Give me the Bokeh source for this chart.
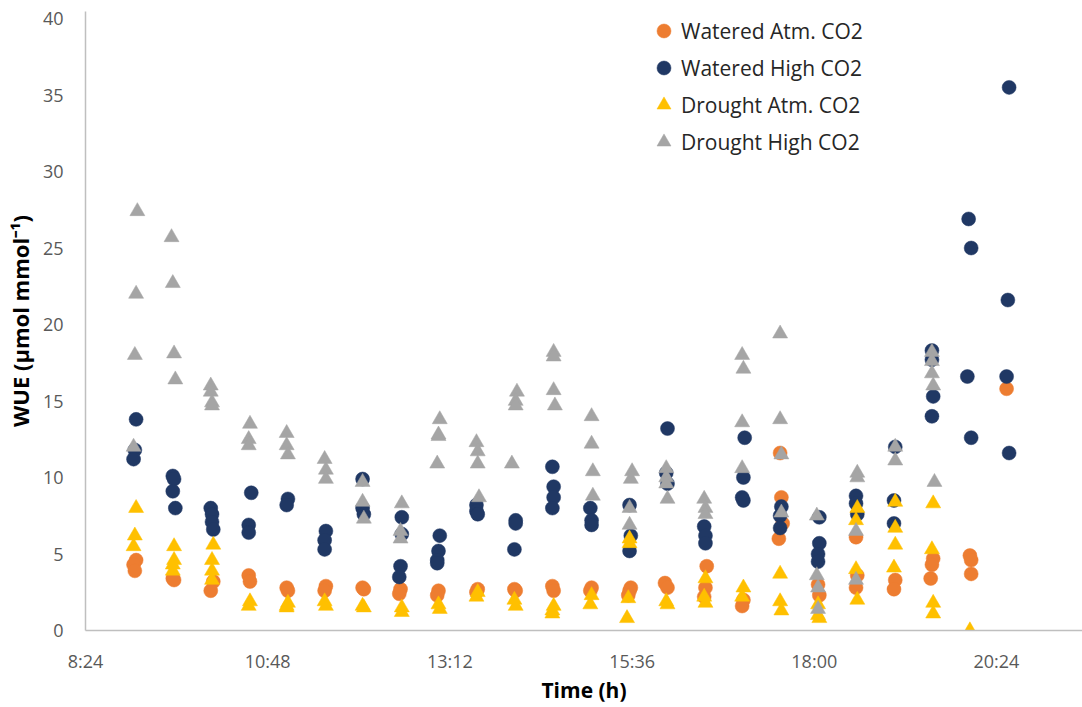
from bokeh.plotting import figure
from bokeh.models import FixedTicker, Legend, LegendItem, ColumnDataSource
from bokeh.embed import file_html
from bokeh.resources import INLINE

# ---------------- data ----------------
x_tick_labels = ["8:24", "10:48", "13:12", "15:36", "18:00", "20:24"]
x_end_label = "21:32"
y_ticks = [0, 5, 10, 15, 20, 25, 30, 35, 40]
y_top = 40.46

wa_time = ["9:04", "9:02", "9:03", "9:33", "9:34", "10:05", "10:03", "10:33", "10:34",
           "11:03", "11:04", "11:34", "11:33", "12:03", "12:04", "12:33", "12:32",
           "13:03", "13:02", "13:34", "13:33", "14:03", "14:04", "14:33", "14:34",
           "15:04", "15:03", "15:35", "15:34", "15:33", "16:02", "16:04",
           "16:35", "16:34", "16:33", "17:04", "17:03",
           "17:33", "17:34", "17:35", "17:32", "18:03", "18:04",
           "18:33", "18:34", "18:33", "19:04", "19:03", "19:34", "19:33", "19:32",
           "20:03", "20:04", "20:04", "20:32"]
wa_wue = [4.6, 4.3, 3.9, 3.4, 3.3, 3.2, 2.6, 3.6, 3.2,
          2.8, 2.6, 2.9, 2.6, 2.8, 2.7, 2.7, 2.4,
          2.6, 2.3, 2.7, 2.5, 2.7, 2.6, 2.9, 2.6,
          2.8, 2.6, 2.8, 2.6, 2.3, 3.1, 2.8,
          4.2, 2.8, 2.2, 2.0, 1.6,
          11.6, 8.7, 7.0, 6.0, 3.0, 2.3,
          6.1, 3.6, 2.8, 3.3, 2.7, 4.7, 4.3, 3.4,
          4.9, 4.6, 3.7, 15.8]

wh_time = ["9:04", "9:03", "9:02", "9:33", "9:34", "9:33", "9:35",
           "10:03", "10:04", "10:04", "10:05", "10:35", "10:33", "10:33",
           "11:04", "11:03", "11:34", "11:33", "11:33", "12:03", "12:03", "12:04",
           "12:34", "12:34", "12:33", "12:32", "13:04", "13:03", "13:02", "13:02",
           "13:33", "13:33", "13:34", "14:04", "14:04", "14:03",
           "14:33", "14:34", "14:34", "14:33", "15:03", "15:04", "15:04",
           "15:34", "15:35", "15:34", "16:04", "16:03", "16:04",
           "16:33", "16:34", "16:34", "17:05", "17:04", "17:03", "17:04",
           "17:34", "17:33", "17:33", "18:04", "18:04", "18:03", "18:03",
           "18:33", "18:33", "18:34", "19:04", "19:03", "19:03",
           "19:33", "19:33", "19:34", "19:33", "20:02", "20:04", "20:01", "20:04",
           "20:34", "20:33", "20:32", "20:34"]
wh_wue = [13.8, 11.8, 11.2, 10.1, 9.9, 9.1, 8.0,
          8.0, 7.6, 7.1, 6.6, 9.0, 6.9, 6.4,
          8.6, 8.2, 6.5, 5.9, 5.3, 9.9, 8.0, 7.6,
          7.4, 6.3, 4.2, 3.5, 6.2, 5.2, 4.6, 4.4,
          8.2, 7.8, 7.6, 7.2, 7.0, 5.3,
          10.7, 9.4, 8.7, 8.0, 8.0, 7.2, 6.9,
          8.2, 6.2, 5.2, 13.2, 10.3, 9.6,
          6.8, 6.2, 5.7, 12.6, 10.0, 8.7, 8.5,
          8.1, 7.5, 6.7, 7.4, 5.7, 5.0, 4.5,
          8.8, 8.3, 7.6, 12.0, 8.5, 7.0,
          18.3, 17.7, 15.3, 14.0, 26.9, 25.0, 16.6, 12.6,
          35.5, 21.6, 16.6, 11.6]

da_time = ["9:04", "9:03", "9:02", "9:34", "9:34", "9:33", "9:33",
           "10:05", "10:04", "10:04", "10:04", "10:34", "10:33",
           "11:04", "11:03", "11:03", "11:33", "11:34", "12:03", "12:04",
           "12:34", "12:34", "13:03", "13:04", "13:34", "13:33", "14:03", "14:04",
           "14:34", "14:33", "14:33", "15:04", "15:03",
           "15:34", "15:34", "15:33", "15:32", "16:03", "16:04",
           "16:34", "16:33", "16:34", "17:04", "17:03",
           "17:33", "17:33", "17:34", "18:03", "18:03", "18:04",
           "18:34", "18:33", "18:33", "18:34", "19:04", "19:04", "19:04", "19:03",
           "19:34", "19:33", "19:34", "19:34", "20:03"]
da_wue = [8.0, 6.2, 5.5, 5.5, 4.6, 4.3, 3.9,
          5.6, 4.6, 3.9, 3.3, 1.9, 1.6,
          1.8, 1.6, 1.5, 1.9, 1.6, 1.6, 1.5,
          1.5, 1.2, 1.7, 1.4, 2.5, 2.2, 2.0, 1.6,
          1.6, 1.3, 1.1, 2.3, 1.7,
          6.0, 5.7, 2.1, 0.8, 1.9, 1.7,
          3.4, 2.2, 1.8, 2.8, 2.2,
          3.7, 1.9, 1.3, 1.7, 1.0, 0.8,
          8.0, 7.2, 4.0, 2.0, 8.4, 6.7, 5.6, 4.1,
          8.3, 5.3, 1.8, 1.1, 0.0]

dh_time = ["9:05", "9:04", "9:03", "9:02", "9:32", "9:33", "9:34", "9:35",
           "10:03", "10:03", "10:04", "10:04", "10:34", "10:33", "10:33",
           "11:03", "11:03", "11:04", "11:33", "11:34", "11:34",
           "12:03", "12:03", "12:04", "12:34", "12:33", "12:33",
           "13:04", "13:03", "13:03", "13:02", "13:33", "13:34", "13:34", "13:35",
           "14:05", "14:04", "14:04", "14:01", "14:34", "14:34", "14:34", "14:35",
           "15:04", "15:04", "15:05", "15:05", "15:36", "15:35", "15:34", "15:34",
           "16:03", "16:03", "16:03", "16:04", "16:33", "16:34", "16:34",
           "17:03", "17:04", "17:03", "17:03", "17:33", "17:33", "17:34", "17:34",
           "18:02", "18:02", "18:03", "18:03", "18:34", "18:34", "18:33", "18:33",
           "19:04", "19:04", "19:33", "19:33", "19:33", "19:34", "19:35"]
dh_wue = [27.4, 22.0, 18.0, 12.0, 25.7, 22.7, 18.1, 16.4,
          16.0, 15.6, 14.9, 14.7, 13.5, 12.5, 12.1,
          12.9, 12.1, 11.5, 11.2, 10.5, 9.9,
          9.7, 8.4, 7.3, 8.3, 6.5, 6.0,
          13.8, 12.8, 12.7, 10.9, 12.3, 11.7, 10.9, 8.7,
          15.6, 15.0, 14.7, 10.9, 18.2, 17.9, 15.7, 14.7,
          14.0, 12.2, 10.4, 8.8, 10.4, 9.9, 8.0, 6.9,
          10.6, 10.0, 9.6, 8.6, 8.6, 8.0, 7.6,
          18.0, 17.1, 13.6, 10.6, 19.4, 13.8, 11.5, 7.7,
          7.5, 3.6, 2.8, 1.4, 10.3, 10.0, 6.5, 3.3,
          12.0, 11.1, 18.2, 17.6, 16.8, 16.0, 9.7]

series_names = ["Watered Atm. CO2", "Watered High CO2", "Drought Atm. CO2", "Drought High CO2"]
series_colors = ["#ED7D31", "#203864", "#FFC000", "#A5A5A5"]
series_markers = ["circle", "circle", "triangle", "triangle"]


def minutes(t):
    h, m = t.split(":")
    return int(h) * 60 + int(m)


# ---------------- figure ----------------
x_ticks = [minutes(t) for t in x_tick_labels]
p = figure(width=1082, height=707, output_backend="svg", toolbar_location=None,
           x_range=(x_ticks[0], minutes(x_end_label)), y_range=(y_ticks[0], y_top),
           min_border_left=85, min_border_right=0, min_border_top=11, min_border_bottom=77)
p.outline_line_color = None
p.xgrid.grid_line_color = None
p.ygrid.grid_line_color = None
p.background_fill_color = "white"
p.border_fill_color = "white"

for ax in (p.xaxis[0], p.yaxis[0]):
    ax.axis_line_color = "#BFBFBF"
    ax.axis_line_width = 1.5
    ax.major_tick_line_color = None
    ax.minor_tick_line_color = None
    ax.major_tick_out = 0
    ax.major_tick_in = 0
    ax.major_label_text_font = "Open Sans"
    ax.major_label_text_font_size = "18px"
    ax.major_label_text_color = "#595959"
    ax.axis_label_text_font = "Open Sans"
    ax.axis_label_text_font_size = "21px"
    ax.axis_label_text_font_style = "bold"
    ax.axis_label_text_color = "#000000"

p.xaxis.ticker = FixedTicker(ticks=x_ticks)
p.xaxis.major_label_overrides = {t: lab for t, lab in zip(x_ticks, x_tick_labels)}
p.xaxis.major_label_standoff = 18
p.xaxis.axis_label = "Time (h)"
p.xaxis.axis_label_standoff = 0

p.yaxis.ticker = FixedTicker(ticks=y_ticks)
p.yaxis.major_label_standoff = 22
p.yaxis.axis_label = "WUE (µmol mmol⁻¹)"
p.yaxis.axis_label_text_font_size = "22px"
p.yaxis.axis_label_standoff = 5

all_time = [wa_time, wh_time, da_time, dh_time]
all_wue = [wa_wue, wh_wue, da_wue, dh_wue]

items = []
for name, col, mk, tt, vv in zip(series_names, series_colors, series_markers, all_time, all_wue):
    src = ColumnDataSource(dict(x=[minutes(t) for t in tt], y=vv))
    size = 14 if mk == "circle" else 15
    r = p.scatter("x", "y", source=src, marker=mk, size=size,
                  fill_color=col, line_color=col, line_width=0.5)
    items.append(LegendItem(label=name, renderers=[r]))

legend = Legend(items=items, location=(561, 470), orientation="vertical",
                border_line_color=None, background_fill_alpha=0,
                glyph_width=35, glyph_height=37, spacing=0, padding=0, margin=0,
                label_standoff=0, label_text_font="Open Sans",
                label_text_font_size="21px", label_text_color="#262626")
p.add_layout(legend)

open("out.html", "w").write(file_html(p, INLINE))
